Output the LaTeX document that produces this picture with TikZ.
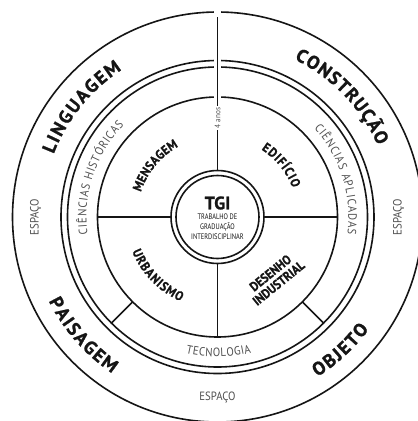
\documentclass[tikz,border=0pt]{standalone}
\usepackage{fontspec}
\setmainfont{PT Sans}
\newfontfamily\heavyfont{PT Sans}[BoldFeatures={FakeBold=1.2}]
\newfontfamily\heavycond{PT Sans}[FakeStretch=0.9, BoldFeatures={FakeBold=1}]
\newfontfamily\condfont{PT Sans}[FakeStretch=0.9]
\newfontfamily\narrowfont{PT Sans}[FakeStretch=0.8]
\usetikzlibrary{decorations.text}
\definecolor{labelgray}{HTML}{505050}
\definecolor{ink}{HTML}{151515}
\newcommand{\outerfont}{\heavyfont\fontsize{18.5}{19}\selectfont\bfseries\color{ink}}
\newcommand{\innerfont}{\heavycond\fontsize{13}{13}\selectfont\bfseries\color{ink}}
\newcommand{\grayfont}{\condfont\fontsize{12}{12}\selectfont\color{labelgray}}
\begin{document}
\begin{tikzpicture}[x=1pt,y=1pt,
  ring/.style={draw=ink, circle, line width=1.6pt, inner sep=0pt, outer sep=0pt},
  spoke/.style={draw=ink, line width=1.6pt},
  arctext/.style={decorate, decoration={text along path, text align={fit to path}, text={#1}}},
  graylabel/.style={font=\grayfont, inner sep=0pt}]
\useasboundingbox (-217.5,-204) rectangle (200.5,217);
\fill[white] (-217.5,-204) rectangle (200.5,217);
% rings
\node[ring, minimum size=410pt] (outer) at (0,0) {};
\node[ring, minimum size=313pt] (mid2) at (0,0) {};
\node[ring, minimum size=300pt] (mid1) at (0,0) {};
\node[ring, minimum size=240pt] (inner) at (0,0) {};
\node[ring, minimum size=93pt] (tgiout) at (0,0) {};
\node[ring, minimum size=83pt] (tgiin) at (0,0) {};
% spokes
\draw[spoke] (tgiout.west) -- (inner.west);
\draw[spoke] (tgiout.east) -- (inner.east);
\draw[spoke] (tgiout.south) -- (inner.south);
\draw[spoke] (inner.-45) -- (mid1.-45);
\draw[spoke] (inner.-135) -- (mid1.-135);
\draw[white, line width=7pt, shorten <=3pt, shorten >=-4pt] (tgiout.north) -- (outer.north);
\draw[spoke, shorten >=4.5pt] (tgiout.north) -- (outer.north);
\node[fill=white, rotate=90, font=\condfont\fontsize{8}{8}\selectfont, text=labelgray, inner sep=1.5pt] (anos) at (0,99) {4 anos};
% centre
\node[font=\heavyfont\fontsize{18}{18}\selectfont\bfseries, text=ink, inner sep=0pt] (tgi) at (0,14) {TGI};
\node[font=\narrowfont\fontsize{8}{10}\selectfont, text=ink, align=center, inner sep=0pt] (tgitext) at (0,-10) {TRABALHO DE\\GRADUAÇÃO\\INTERDISCIPLINAR};
% outer ring labels
\path[arctext={|\outerfont|LINGUAGEM}] (159:175.5) arc[start angle=159, end angle=123, radius=175.5];
\path[arctext={|\outerfont|CONSTRUÇÃO}] (64:175.5) arc[start angle=64, end angle=24, radius=175.5];
\path[arctext={|\outerfont|PAISAGEM}] (-153.5:188.5) arc[start angle=-153.5, end angle=-124, radius=188.5];
\path[arctext={|\outerfont|OBJETO}] (-58:188.5) arc[start angle=-58, end angle=-36.5, radius=188.5];
\node[graylabel, rotate=90] (espL) at (-182,0) {ESPAÇO};
\node[graylabel, rotate=90] (espR) at (181,0) {ESPAÇO};
\node[graylabel] (espB) at (0,-180) {ESPAÇO};
% middle ring labels
\path[arctext={|\grayfont|CIÊNCIAS HISTÓRICAS}] (187.5:131) arc[start angle=187.5, end angle=135.5, radius=131];
\path[arctext={|\grayfont|CIÊNCIAS APLICADAS}] (42.5:131) arc[start angle=42.5, end angle=-7.5, radius=131];
\path[arctext={|\grayfont|TECNOLOGIA}] (-103:140) arc[start angle=-103, end angle=-76, radius=140];
% inner quadrant labels
\path[arctext={|\innerfont|MENSAGEM}] (162:80.5) arc[start angle=162, end angle=119, radius=80.5];
\path[arctext={|\innerfont|EDIFÍCIO}] (57:80.5) arc[start angle=57, end angle=21, radius=80.5];
\path[arctext={|\innerfont|URBANISMO}] (-158:92) arc[start angle=-158, end angle=-113.5, radius=92];
\node[font=\innerfont, text=ink, align=center, rotate=39, inner sep=0pt] (desenho) at (57,-61) {DESENHO\\INDUSTRIAL};
\end{tikzpicture}
\end{document}
